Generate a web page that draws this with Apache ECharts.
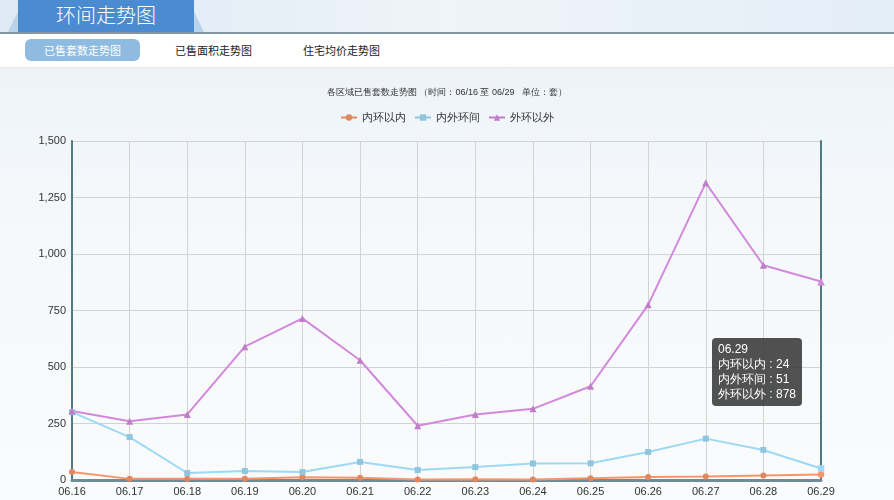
<!DOCTYPE html>
<html>
<head>
<meta charset="utf-8">
<script src="https://cdn.jsdelivr.net/npm/echarts@6/dist/echarts.min.js"></script>
<style>
  html, body { margin:0; padding:0; width:894px; height:500px; overflow:hidden; font-family:"Noto Sans CJK SC","Noto Sans",sans-serif; }
  body { background: linear-gradient(180deg,#e8f1f8 0%,#f5f8fb 40%,#f9fbfc 100%); position:relative; }
  #header { position:absolute; left:0; top:0; width:894px; height:32px; background:linear-gradient(90deg,#dde9f4 0%,#eef4f9 50%,#e4eef7 100%); }
  #tabOuter { position:absolute; left:8px; top:0; width:196px; height:32px; background:#b9d3ec; clip-path:polygon(0 100%,8% 0,92% 0,100% 100%); }
  #tab { position:absolute; left:18px; top:0; width:176px; height:32px; background:#4b8bd0; color:#fff; font-size:20px; font-weight:300; line-height:30px; text-align:center; }
  #tabs { position:absolute; left:0; top:32px; width:894px; height:36px; background:#fff; border-top:2px solid #8496a6; border-bottom:1px solid #e3e8ec; box-sizing:border-box; }
  .btn { position:absolute; top:5px; height:22px; line-height:22px; font-size:11px; color:#222; }
  #b1 { left:25px; width:115px; background:#8fbbe0; color:#fff; border-radius:6px; text-align:center; }
  #b2 { left:175px; }
  #b3 { left:303px; }
  #chart { position:absolute; left:0; top:0; width:894px; height:500px; }
</style>
</head>
<body>
<div id="header"><div id="tabOuter"></div><div id="tab">环间走势图</div></div>
<div id="tabs"><div class="btn" id="b1">已售套数走势图</div><div class="btn" id="b2">已售面积走势图</div><div class="btn" id="b3">住宅均价走势图</div></div>
<div id="chart"></div>
<script>
const categories = ['06.16','06.17','06.18','06.19','06.20','06.21','06.22','06.23','06.24','06.25','06.26','06.27','06.28','06.29'];
const innerRing = [35, 5, 5, 5, 12, 10, 2, 3, 2, 8, 13, 15, 20, 24];
const betweenRings = [300, 190, 31, 40, 35, 80, 44, 57, 73, 74, 124, 183, 133, 51];
const outerRing = [305, 260, 290, 590, 715, 530, 240, 290, 315, 415, 775, 1315, 950, 878];
const seriesNames = ['内环以内','内外环间','外环以外'];
const yTicks = { min: 0, max: 1500, interval: 250 };

const chart = echarts.init(document.getElementById('chart'), null, { renderer: 'canvas' });
const colors = ['#e2885f', '#8fc6de', '#bf7dc8'];
chart.setOption({
  backgroundColor: 'transparent',
  color: colors,
  title: {
    text: '各区域已售套数走势图 （时间：06/16 至 06/29   单位：套）',
    left: 'center', top: 83,
    textStyle: { fontSize: 9, fontWeight: 'normal', color: '#333' }
  },
  legend: {
    top: 107, left: 'center', itemGap: 8, itemWidth: 16, itemHeight: 8,
    textStyle: { fontSize: 11, color: '#333' },
    data: seriesNames
  },
  tooltip: {
    trigger: 'axis',
    axisPointer: { type: 'line', lineStyle: { color: 'transparent' } },
    backgroundColor: 'rgba(50,50,50,0.85)',
    borderWidth: 0, borderRadius: 4, padding: [4, 6],
    textStyle: { color: '#fff', fontSize: 12, lineHeight: 15 },
    position: function () { return [712, 338]; },
    formatter: function (params) {
      let s = params[0].axisValue;
      params.forEach(p => { s += '<br/>' + p.seriesName + ' : ' + p.value; });
      return s;
    },
    extraCssText: 'box-shadow:none;line-height:15px;'
  },
  grid: { left: 72, right: 73, top: 141, bottom: 20, containLabel: false },
  xAxis: {
    type: 'category', boundaryGap: false, data: categories,
    axisLine: { show: true, lineStyle: { color: '#6f8c9c', width: 3 } },
    axisTick: { show: false },
    axisLabel: { color: '#333', fontSize: 11, margin: 6 },
    splitLine: { show: true, lineStyle: { color: '#d3d3d3' } }
  },
  yAxis: [{
    type: 'value', min: yTicks.min, max: yTicks.max, interval: yTicks.interval,
    axisLine: { show: true, lineStyle: { color: '#4f7c80', width: 2 } },
    axisTick: { show: false },
    axisLabel: { color: '#333', fontSize: 11, margin: 6,
      formatter: v => v.toLocaleString('en-US') },
    splitLine: { show: true, lineStyle: { color: '#d3d3d3' } }
  }, {
    type: 'value', min: yTicks.min, max: yTicks.max, interval: yTicks.interval, position: 'right',
    axisLine: { show: true, lineStyle: { color: '#4f7c80', width: 2 } },
    axisTick: { show: false }, axisLabel: { show: false }, splitLine: { show: false }
  }],
  series: [
    { name: seriesNames[0], type: 'line', data: innerRing, symbol: 'circle', symbolSize: 6, lineStyle: { width: 2 }, showAllSymbol: true },
    { name: seriesNames[1], type: 'line', data: betweenRings, symbol: 'rect', symbolSize: 6, lineStyle: { width: 2 }, showAllSymbol: true },
    { name: seriesNames[2], type: 'line', data: outerRing, symbol: 'triangle', symbolSize: 7, lineStyle: { width: 2 }, showAllSymbol: true }
  ],
  animation: false
});
chart.dispatchAction({ type: 'showTip', seriesIndex: 0, dataIndex: 13 });
</script>
</body>
</html>
